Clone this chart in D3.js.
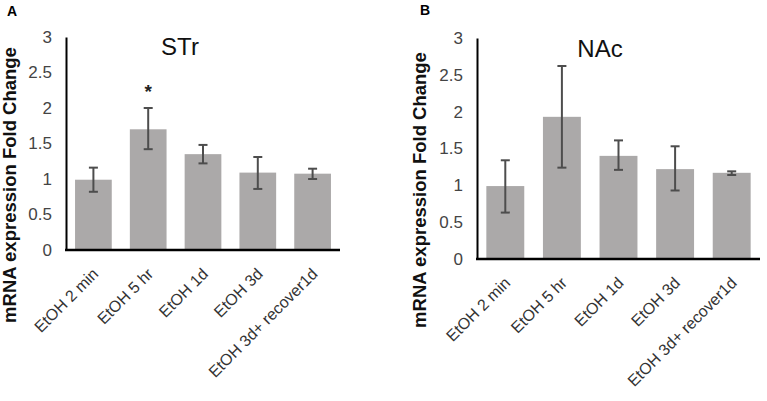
<!DOCTYPE html>
<html><head><meta charset="utf-8">
<script src="https://cdn.jsdelivr.net/npm/d3@7"></script>
<style>body{margin:0;background:#fff}svg{display:block;font-family:"Liberation Sans",Arial,sans-serif}</style>
</head><body>
<svg id="c" width="767" height="401"></svg>
<script>
const categories = ["EtOH 2 min","EtOH 5 hr","EtOH 1d","EtOH 3d","EtOH 3d+ recover1d"];
const strMean = [0.99, 1.70, 1.35, 1.09, 1.075];
const strLow  = [0.82, 1.42, 1.22, 0.86, 1.00];
const strHigh = [1.16, 2.00, 1.48, 1.31, 1.145];
const nacMean = [0.99, 1.93, 1.40, 1.22, 1.17];
const nacLow  = [0.63, 1.24, 1.21, 0.93, 1.14];
const nacHigh = [1.34, 2.62, 1.61, 1.53, 1.19];
const yTicks = [0, 0.5, 1, 1.5, 2, 2.5, 3];
const yTickLabels = ["0","0.5","1","1.5","2","2.5","3"];
const panels = [
  {letter:"A", title:"STr", mean:strMean, low:strLow, high:strHigh, sig:[false,true,false,false,false],
   x0:66, x1:340, yTop:37, yBot:250, letterX:7, letterY:16, ytX:16, ytY:185, titleX:180, titleY:55},
  {letter:"B", title:"NAc", mean:nacMean, low:nacLow, high:nacHigh, sig:[false,false,false,false,false],
   x0:477, x1:760, yTop:38, yBot:259, letterX:420, letterY:15, ytX:426, ytY:190, titleX:600, titleY:57}
];
const svg = d3.select("#c");
panels.forEach(p => {
  const g = svg.append("g");
  const x = d3.scaleBand().domain(categories).range([p.x0, p.x1]).paddingInner(0.33).paddingOuter(0.165);
  const y = d3.scaleLinear().domain([0,3]).range([p.yBot, p.yTop]);
  // bars
  g.selectAll("rect.bar").data(p.mean).join("rect").attr("class","bar")
    .attr("x",(d,i)=>x(categories[i])).attr("width",x.bandwidth())
    .attr("y",d=>y(d)).attr("height",d=>y(0)-y(d)).attr("fill","#aba9a9");
  // error bars
  const eb = g.selectAll("g.eb").data(p.mean).join("g").attr("class","eb")
    .attr("stroke","#4d4d4d").attr("stroke-width",2);
  const cx = i => x(categories[i]) + x.bandwidth()/2;
  eb.append("line").attr("x1",(d,i)=>cx(i)).attr("x2",(d,i)=>cx(i))
    .attr("y1",(d,i)=>y(p.low[i])).attr("y2",(d,i)=>y(p.high[i]));
  eb.append("line").attr("x1",(d,i)=>cx(i)-4.5).attr("x2",(d,i)=>cx(i)+4.5)
    .attr("y1",(d,i)=>y(p.low[i])).attr("y2",(d,i)=>y(p.low[i]));
  eb.append("line").attr("x1",(d,i)=>cx(i)-4.5).attr("x2",(d,i)=>cx(i)+4.5)
    .attr("y1",(d,i)=>y(p.high[i])).attr("y2",(d,i)=>y(p.high[i]));
  // significance
  g.selectAll("text.sig").data(p.sig.map((s,i)=>({s,i})).filter(d=>d.s)).join("text").attr("class","sig")
    .attr("x",d=>cx(d.i)).attr("y",d=>y(p.high[d.i])-10)
    .attr("text-anchor","middle").attr("font-size",19).attr("font-weight","bold").attr("fill","#222").text("*");
  // y axis
  const ya = d3.axisLeft(y).tickValues(yTicks).tickFormat((d,i)=>yTickLabels[i]).tickSize(0).tickPadding(14);
  const yg = g.append("g").attr("transform",`translate(${p.x0},0)`).call(ya);
  yg.select(".domain").attr("stroke","#000").attr("stroke-width",2);
  yg.selectAll("text").attr("font-size",17).attr("fill","#444").attr("font-family","Liberation Sans, Arial");
  // x axis
  const xa = d3.axisBottom(x).tickSize(0).tickFormat(()=>"");
  const xg = g.append("g").attr("transform",`translate(0,${p.yBot})`).call(xa);
  xg.select(".domain").attr("stroke","#000").attr("stroke-width",2.5).attr("d",`M${p.x0-1},0H${p.x1}`);
  // rotated x labels
  g.selectAll("text.xl").data(categories).join("text").attr("class","xl")
    .attr("transform",(d,i)=>`translate(${cx(i)+6},${p.yBot+25}) rotate(-45)`)
    .attr("text-anchor","end").attr("font-size",16).attr("fill","#333").text(d=>d);
  // title
  g.append("text").attr("x",p.titleX).attr("y",p.titleY).attr("text-anchor","middle")
    .attr("font-size",24).attr("fill","#111").text(p.title);
  // y title
  g.append("text").attr("transform",`translate(${p.ytX},${p.ytY}) rotate(-90)`).attr("text-anchor","middle")
    .attr("font-size",18.5).attr("font-weight","bold").attr("fill","#111").text("mRNA expression Fold Change");
  // letter
  g.append("text").attr("x",p.letterX).attr("y",p.letterY).attr("font-size",14).attr("font-weight","bold").text(p.letter);
});
</script>
</body></html>
